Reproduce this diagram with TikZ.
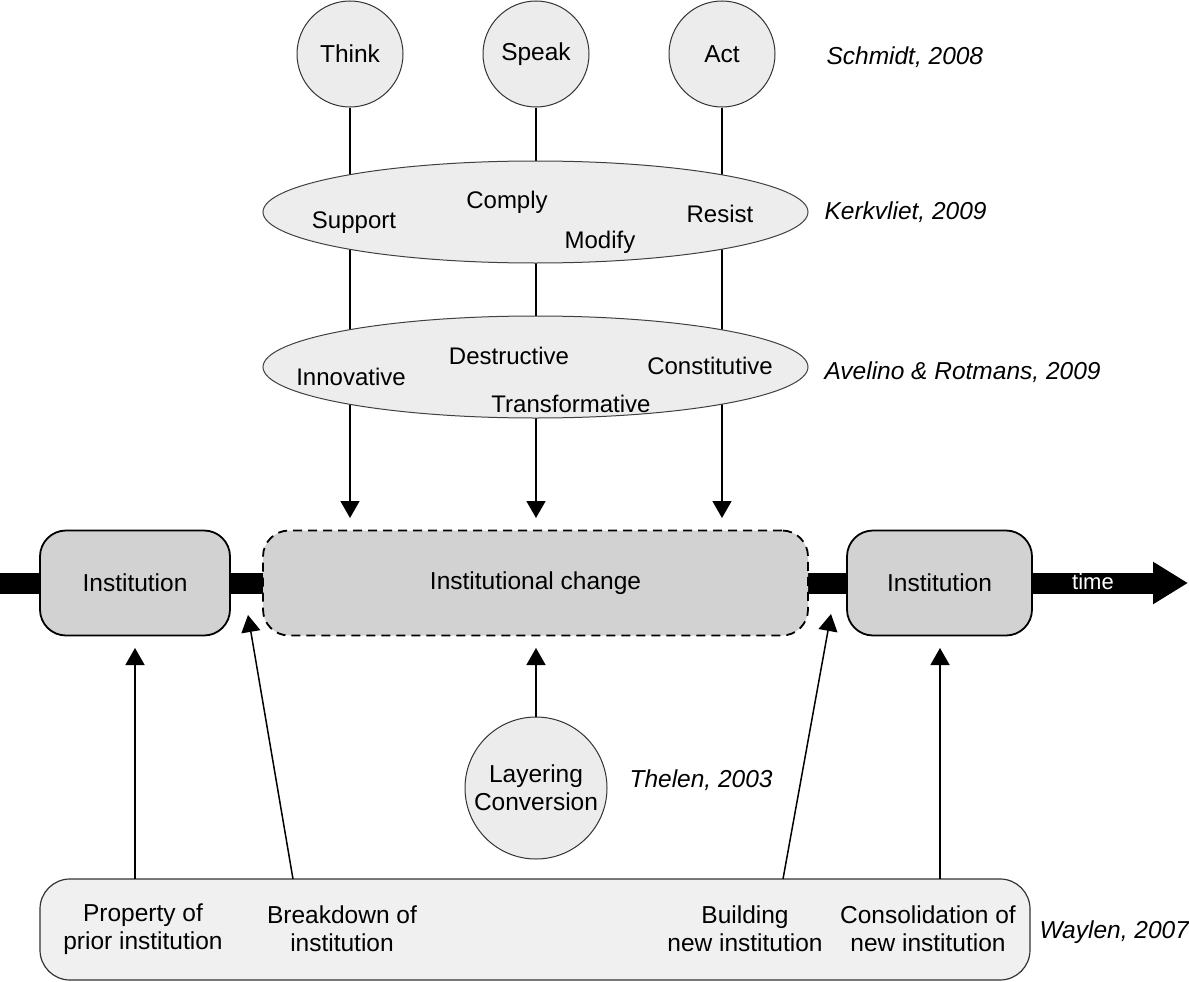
\documentclass[tikz,border=0pt]{standalone}
\usepackage{fontspec}
\setmainfont{Liberation Sans}
\usetikzlibrary{arrows.meta,shapes.geometric}
\begin{document}
\begin{tikzpicture}[x=1pt,y=-1pt,
  every node/.style={font=\fontsize{24.5}{28}\selectfont},
  small/.style={font=\fontsize{24}{28}\selectfont},
  bot/.style={font=\fontsize{24.5}{28}\selectfont,align=center},
  circ/.style={circle,draw=black!80,line width=1pt,fill=gray!15,minimum size=106pt,inner sep=0pt},
  ell/.style={ellipse,draw=black!75,line width=1pt,fill=gray!14,minimum width=545pt,minimum height=102pt,inner sep=0pt},
  inst/.style={rectangle,rounded corners=26pt,draw=black,line width=1.8pt,fill=gray!35,minimum height=105pt,inner sep=0pt},
  conn/.style={line width=1.5pt},
  arr/.style={conn,-{Triangle[width=19pt,length=17pt]}},
  cite/.style={font=\fontsize{24.5}{28}\selectfont\itshape,anchor=west},
  lbl/.style={align=center}]
\useasboundingbox (0,0) rectangle (1189,982);

% timeline
\coordinate (tl) at (0,583);
\coordinate (tr) at (1188,583);
\draw[line width=21pt,-{Triangle[width=40pt,length=35pt]}] (tl) -- (tr);
\node[text=white,font=\fontsize{22}{24}\selectfont] (time) at (1093,582) {time};

% boxes on timeline
\node[inst,minimum width=190pt] (i1) at (135,583) {Institution};
\node[inst,minimum width=545pt,dash pattern=on 9pt off 6pt] (chg) at (535.5,583) {Institutional change};
\node[inst,minimum width=185pt] (i2) at (939.5,583) {Institution};

% top circles
\node[circ] (think) at (350,54) {Think};
\node[circ] (speak) at (536,54) {Speak};
\node[circ] (act) at (722,54) {Act};

\coordinate (a1) at (350,518);
\coordinate (a2) at (536,518);
\coordinate (a3) at (722,518);
\draw[arr] (think.south) -- (a1);
\draw[arr] (speak.south) -- (a2);
\draw[arr] (act.south) -- (a3);

% ellipses
\node[ell] (e1) at (535.5,212) {};
\node[small] (support) at (354,223) {Support};
\node[small] (comply) at (507,202) {Comply};
\node[small] (modify) at (600,242) {Modify};
\node[small] (resist) at (720,214) {Resist};

\node[ell] (e2) at (535.5,367) {};
\node[small] (innov) at (351,377) {Innovative};
\node[small] (destr) at (509,356) {Destructive};
\node[small] (const) at (710,366) {Constitutive};
\node[small] (transf) at (571,404) {Transformative};

% citations
\node[cite] (schmidt) at (823,57) {Schmidt, 2008};
\node[cite] (kerk) at (821,212) {Kerkvliet, 2009};
\node[cite] (avel) at (821,372) {Avelino \& Rotmans, 2009};
\node[cite] (thelen) at (626,780) {Thelen, 2003};
\node[cite] (waylen) at (1036,932) {Waylen, 2007};

% Thelen circle
\node[circ,minimum size=142pt,lbl] (lc) at (536,788) {Layering\\Conversion};
\coordinate (t5) at (536,648);
\draw[arr] (lc.north) -- (t5);

% bottom box
\node[rectangle,rounded corners=30pt,draw=black!80,line width=1.2pt,fill=gray!12,minimum width=990pt,minimum height=101pt,inner sep=0pt] (wb) at (535,929.5) {};
\node[bot] (prop) at (143,929) {Property of\\prior institution};
\node[bot] (break) at (342,929) {Breakdown of\\institution};
\node[bot] (build) at (745,929) {Building\\new institution};
\node[bot] (consol) at (928,929) {Consolidation of\\new institution};

\coordinate (b1) at (135,879);
\coordinate (b2) at (293,879);
\coordinate (b3) at (783,879);
\coordinate (b4) at (940,879);
\coordinate (t1) at (135,648);
\coordinate (t2) at (248,615);
\coordinate (t3) at (831,614);
\coordinate (t4) at (940,648);
\draw[arr] (b1) -- (t1);
\draw[arr] (b2) -- (t2);
\draw[arr] (b3) -- (t3);
\draw[arr] (b4) -- (t4);
\end{tikzpicture}
\end{document}
